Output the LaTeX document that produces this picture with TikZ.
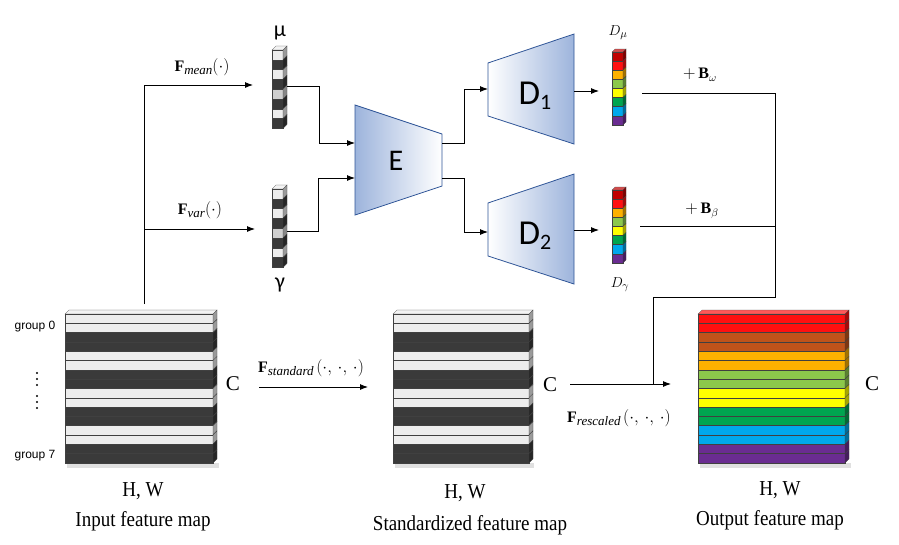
\documentclass[tikz,border=0pt]{standalone}
\usepackage{fontspec}
\setmainfont{Liberation Serif}
\newfontfamily\sansf{Liberation Sans}
\newfontfamily\calf{Carlito}
\usetikzlibrary{arrows.meta,shadows}

\definecolor{trapblue}{HTML}{9DB4DC}
\definecolor{trapedge}{HTML}{2F5597}
\definecolor{lbar}{HTML}{EDEDED}
\definecolor{dbar}{HTML}{3A3A3A}
\definecolor{gbar}{HTML}{CFCFCF}
\definecolor{cdred}{HTML}{C00000}
\definecolor{cred}{HTML}{FF1010}
\definecolor{cbrown}{HTML}{C0531A}
\definecolor{corange}{HTML}{FDB100}
\definecolor{clgreen}{HTML}{8CC84B}
\definecolor{cyellow}{HTML}{FFFF00}
\definecolor{cgreen}{HTML}{00A550}
\definecolor{cblue}{HTML}{00A8EC}
\definecolor{cpurple}{HTML}{6A2C91}

\tikzset{
  conn/.style={line width=0.9pt, draw=black},
  arr/.style={conn, -{Latex[length=8pt,width=6pt]}},
  serif18/.style={font=\fontsize{19}{21}\selectfont},
  clabel/.style={font=\fontsize{21}{23}\selectfont},
  mathlbl/.style={font=\fontsize{16}{18}\selectfont},
  grouplbl/.style={font=\sansf\fontsize{12}{14}\selectfont},
  greek/.style={font=\calf\fontsize{22}{24}\selectfont},
  trap/.style={draw=trapedge, line width=0.8pt},
}

\newcommand\tall[1]{\scalebox{1}[1.12]{#1}}
\newcommand\Flab[2]{\textbf{F}\raisebox{-0.45ex}{\fontsize{13}{13}\selectfont\textit{#1}}#2}

% #1 x, #2 y top, #3 width, #4 bar height, #5 depth, #6 top colour, #7 colour list
\newcommand\barstack[7]{%
  \fill[#6!70!white, draw=black!70, line width=0.3pt] (#1,#2) -- ++(#5,-#5) -- ++(#3,0) -- ++(-#5,#5) -- cycle;
  \foreach \c [count=\i from 0] in {#7} {%
    \pgfmathsetmacro\yy{#2+\i*#4}%
    \fill[\c, draw=black!75, line width=0.35pt] (#1,\yy) rectangle ++(#3,#4);
    \fill[\c!65!black, draw=black!75, line width=0.3pt] (#1+#3,\yy) -- ++(#5,-#5) -- ++(0,#4) -- ++(-#5,#5) -- cycle;
  }%
}

\begin{document}
\begin{tikzpicture}[x=1pt,y=-1pt]
\useasboundingbox (0,0) rectangle (899,544);

% ---------- shadows ----------
\fill[black,opacity=0.12] (67,463) rectangle (219,468);
\fill[black,opacity=0.12] (395,463) rectangle (534,468);
\fill[black,opacity=0.12] (700,463) rectangle (851,468);

% ---------- feature maps ----------
\barstack{65}{314}{148}{9.3}{4}{lbar}{lbar,lbar,dbar,dbar,lbar,lbar,dbar,dbar,lbar,lbar,dbar,dbar,lbar,lbar,dbar,dbar}
\barstack{393}{314}{136}{9.3}{4}{lbar}{lbar,lbar,dbar,dbar,lbar,lbar,dbar,dbar,lbar,lbar,dbar,dbar,lbar,lbar,dbar,dbar}
\barstack{698}{314}{147}{9.3}{4}{cred}{cred,cred,cbrown,cbrown,corange,corange,clgreen,clgreen,cyellow,cyellow,cgreen,cgreen,cblue,cblue,cpurple,cpurple}

% ---------- vectors ----------
\barstack{272}{50}{11}{9.8}{4}{lbar}{lbar,dbar,lbar,dbar,gbar,dbar,lbar,dbar}
\barstack{272}{189}{11}{9.8}{4}{lbar}{lbar,dbar,lbar,dbar,gbar,dbar,lbar,dbar}
\barstack{612}{52}{11}{9.1}{3}{cdred}{cdred,cred,corange,clgreen,cyellow,cgreen,cblue,cpurple}
\barstack{612}{190}{11}{9.1}{3}{cdred}{cdred,cred,corange,clgreen,cyellow,cgreen,cblue,cpurple}

% ---------- encoder / decoders ----------
\shade[trap, left color=trapblue, right color=white] (355,105) -- (442,134) -- (442,186) -- (355,215) -- cycle;
\shade[trap, left color=white, right color=trapblue] (488,63) -- (574,34) -- (574,144) -- (488,116) -- cycle;
\shade[trap, left color=white, right color=trapblue] (488,203) -- (574,174) -- (574,284) -- (488,256) -- cycle;
\node[font=\calf\fontsize{30}{32}\selectfont] (E) at (396,161) {E};
\node[font=\calf\fontsize{35}{36}\selectfont] (D1) at (535,96) {D\raisebox{-0.3ex}{\fontsize{22}{22}\selectfont 1}};
\node[font=\calf\fontsize{35}{36}\selectfont] (D2) at (535,236) {D\raisebox{-0.3ex}{\fontsize{22}{22}\selectfont 2}};

% ---------- coordinates ----------
\coordinate (inTop) at (144,304);
\coordinate (split1) at (144,85);
\coordinate (muIn) at (253,85);
\coordinate (split2) at (144,229);
\coordinate (gaIn) at (255,229);
\coordinate (muOut) at (287,86);
\coordinate (muBend1) at (319,86);
\coordinate (muBend2) at (319,143);
\coordinate (eIn1) at (355,143);
\coordinate (gaOut) at (287,231);
\coordinate (gaBend1) at (318,231);
\coordinate (gaBend2) at (318,178);
\coordinate (eIn2) at (355,178);
\coordinate (eOut1) at (442,143);
\coordinate (eB1) at (464,143);
\coordinate (eB2) at (464,89);
\coordinate (d1In) at (488,89);
\coordinate (eOut2) at (442,178);
\coordinate (eB3) at (464,178);
\coordinate (eB4) at (464,232);
\coordinate (d2In) at (488,232);
\coordinate (d1Out) at (574,91);
\coordinate (dmuIn) at (599,91);
\coordinate (d2Out) at (574,230);
\coordinate (dgaIn) at (599,230);
\coordinate (bwStart) at (642,93);
\coordinate (bwCorner) at (775,93);
\coordinate (bbStart) at (640,226);
\coordinate (bbEnd) at (775,226);
\coordinate (mergeA) at (775,297);
\coordinate (mergeB) at (653,297);
\coordinate (mergeC) at (653,384);
\coordinate (stdFrom) at (259,387);
\coordinate (stdTo) at (368,387);
\coordinate (resFrom) at (570,384);
\coordinate (resTo) at (671,384);

% ---------- connectors ----------
\draw[conn] (inTop) -- (split1);
\draw[arr] (split1) -- (muIn);
\draw[arr] (split2) -- (gaIn);
\draw[conn] (muOut) -- (muBend1) -- (muBend2);
\draw[arr] (muBend2) -- (eIn1);
\draw[conn] (gaOut) -- (gaBend1) -- (gaBend2);
\draw[arr] (gaBend2) -- (eIn2);
\draw[conn] (eOut1) -- (eB1) -- (eB2);
\draw[arr] (eB2) -- (d1In);
\draw[conn] (eOut2) -- (eB3) -- (eB4);
\draw[arr] (eB4) -- (d2In);
\draw[arr] (d1Out) -- (dmuIn);
\draw[arr] (d2Out) -- (dgaIn);
\draw[conn] (bwStart) -- (bwCorner) -- (mergeA) -- (mergeB) -- (mergeC);
\draw[conn] (bbStart) -- (bbEnd);
\draw[arr] (stdFrom) -- (stdTo);
\draw[arr] (resFrom) -- (resTo);

% ---------- labels ----------
\node[mathlbl] (lmean) at (202,67) {\Flab{mean}{$(\cdot)$}};
\node[mathlbl] (lvar) at (200,210) {\Flab{var}{$(\cdot)$}};
\node[mathlbl] (lstd) at (311,368) {\Flab{standard}{\,$(\cdot,\,\cdot,\,\cdot)$}};
\node[mathlbl] (lres) at (619,418) {\Flab{rescaled}{\,$(\cdot,\,\cdot,\,\cdot)$}};
\node[font=\fontsize{16}{18}\selectfont] (lbw) at (700,75) {$+\,\mathbf{B}_{\omega}$};
\node[font=\fontsize{16}{18}\selectfont] (lbb) at (702,211) {$+\,\mathbf{B}_{\beta}$};
\node[font=\fontsize{15}{17}\selectfont] (ldmu) at (618,33) {$D_{\mu}$};
\node[font=\fontsize{15}{17}\selectfont] (ldga) at (620,285) {$D_{\gamma}$};
\node[greek] (lmu) at (280,33) {μ};
\node[greek] (lga) at (280,285) {γ};

\node[grouplbl] (g0) at (35,327) {group 0};
\node[grouplbl] (g7) at (35,456) {group 7};
\foreach \yy in {373,379,385,396,402,408} \fill (37,\yy) circle (1.1);

\node[clabel] (c1) at (233,384) {C};
\node[clabel] (c2) at (550,385) {C};
\node[clabel] (c3) at (872,384) {C};

\node[serif18] (hw1) at (143,491) {\tall{H, W}};
\node[serif18] (hw2) at (465,493) {\tall{H, W}};
\node[serif18] (hw3) at (780,490) {\tall{H, W}};
\node[serif18] (t1) at (143,521) {\tall{Input feature map}};
\node[serif18] (t2) at (470,525) {\tall{Standardized feature map}};
\node[serif18] (t3) at (770,520) {\tall{Output feature map}};
\end{tikzpicture}
\end{document}
